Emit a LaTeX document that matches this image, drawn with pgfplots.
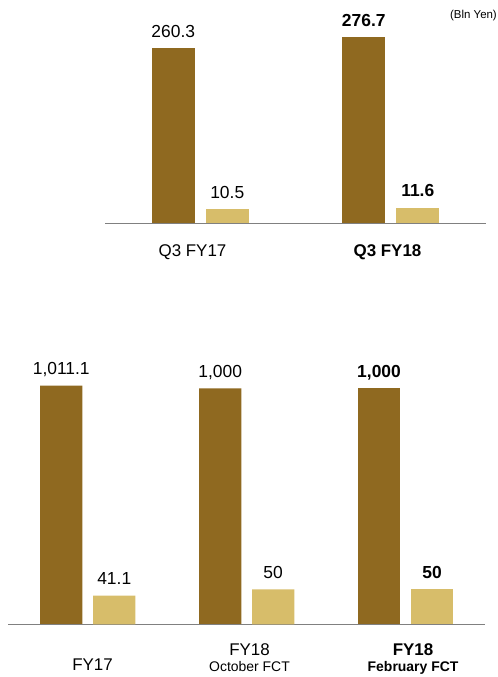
\documentclass[border=0pt]{standalone}
\usepackage{fontspec}
\setmainfont{Liberation Sans}
\usepackage{pgfplots}
\pgfplotsset{compat=1.18}
\definecolor{brownbar}{RGB}{143,105,32}
\definecolor{goldbar}{RGB}{215,189,106}
\definecolor{baseln}{RGB}{128,128,128}
\newcommand\valfont{\fontsize{17.5}{20}\selectfont}
\newcommand\catfont{\fontsize{17}{20}\selectfont}
\newcommand\subfont{\fontsize{14}{16}\selectfont}
\begin{document}
\begin{tikzpicture}
\useasboundingbox (0,0) rectangle (498bp,677bp);
\pgfplotsset{
 panel/.style={scale only axis, axis lines=none, ybar, ymin=0, clip=false,
   anchor=south west, xtick=\empty, ytick=\empty,
   /pgf/number format/assume math mode=true, /pgf/number format/1000 sep={,},
   nodes near coords,
   every node near coord/.append style={anchor=base, inner sep=0pt, yshift=11bp, font=\valfont, text=black}},
 top/.style={panel, at={(105bp,453.5bp)}, width=381bp, height=223.5bp, xmin=-0.5, xmax=1.5},
 bot/.style={panel, at={(8.3bp,52.5bp)}, width=476.7bp, height=300bp, xmin=-0.5, xmax=2.5},
 boldlab/.style={every node near coord/.append style={font=\valfont\bfseries}},
}
% ---------- top panel, large series ----------
\begin{axis}[top, ymax=332.1]
\addplot[fill=brownbar, draw=none, bar width=43.3bp, bar shift=-27bp] coordinates {(0,260.3)};
\addplot[fill=brownbar, draw=none, bar width=43.3bp, bar shift=-27bp, boldlab] coordinates {(1,276.7)};
\draw[baseln, line width=1.7bp] (rel axis cs:0,0) -- (rel axis cs:1,0);
\node[anchor=base, font=\catfont, xshift=-7.75bp, yshift=-33.2bp] at (axis cs:0,0) {Q3 FY17};
\node[anchor=base, font=\catfont\bfseries, xshift=-3.25bp, yshift=-33.2bp] at (axis cs:1,0) {Q3 FY18};
\end{axis}
% ---------- top panel, small series ----------
\begin{axis}[top, ymax=166.3]
\addplot[fill=goldbar, draw=none, bar width=43.3bp, bar shift=27bp] coordinates {(0,10.5)};
\addplot[fill=goldbar, draw=none, bar width=43.3bp, bar shift=27bp, boldlab] coordinates {(1,11.6)};
\end{axis}
% ---------- bottom panel, large series ----------
\begin{axis}[bot, ymax=1270.1]
\addplot[fill=brownbar, draw=none, bar width=42.3bp, bar shift=-26.5bp] coordinates {(0,1011.1) (1,1000)};
\addplot[fill=brownbar, draw=none, bar width=42.3bp, bar shift=-26.5bp, boldlab] coordinates {(2,1000)};
\draw[baseln, line width=1.7bp] (rel axis cs:0,0) -- (rel axis cs:1,0);
\node[anchor=base, font=\catfont, xshift=4.75bp, yshift=-45.5bp] at (axis cs:0,0) {FY17};
\node[anchor=base, font=\catfont, xshift=2.85bp, yshift=-30.5bp] at (axis cs:1,0) {FY18};
\node[anchor=base, font=\subfont, xshift=2.85bp, yshift=-47.2bp] at (axis cs:1,0) {October FCT};
\node[anchor=base, font=\catfont\bfseries, xshift=7.5bp, yshift=-30.5bp] at (axis cs:2,0) {FY18};
\node[anchor=base, font=\subfont\bfseries, xshift=7.5bp, yshift=-47.2bp] at (axis cs:2,0) {February FCT};
\end{axis}
% ---------- bottom panel, small series ----------
\begin{axis}[bot, ymax=427.1]
\addplot[fill=goldbar, draw=none, bar width=42.3bp, bar shift=26.5bp] coordinates {(0,41.1) (1,50)};
\addplot[fill=goldbar, draw=none, bar width=42.3bp, bar shift=26.5bp, boldlab] coordinates {(2,50)};
\end{axis}
\node[anchor=base east, font=\fontsize{11.5}{13}\selectfont, inner sep=0pt] at (497bp,658bp) {(Bln Yen)};
\end{tikzpicture}
\end{document}
